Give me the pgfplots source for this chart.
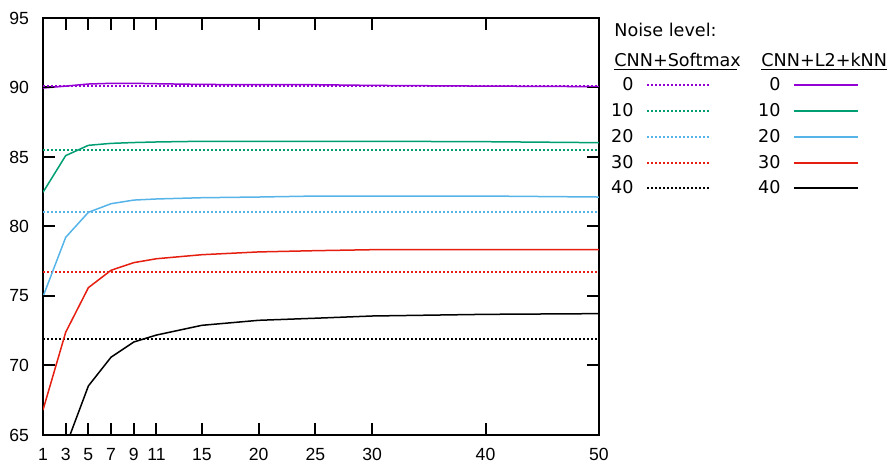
\documentclass[border=0pt]{standalone}
\usepackage{fontspec}
\setmainfont{Liberation Sans}
\newfontfamily\legfont{DejaVu Sans}
\usepackage{pgfplots}
\pgfplotsset{compat=1.18}

\definecolor{gpPurple}{HTML}{9400D3}
\definecolor{gpGreen}{HTML}{009E73}
\definecolor{gpBlue}{HTML}{56B4E9}
\definecolor{gpRed}{HTML}{E51E10}

\tikzset{
  softdot/.style={line width=0.9pt, dash pattern=on 0.8pt off 1.2pt},
  knnline/.style={line width=0.75pt},
}

\begin{document}
\begin{tikzpicture}
% 1 px of the reference = 0.5 pt, axis box lower left at px (43,435)
\begin{axis}[
  at={(0,0)}, anchor=south west,
  scale only axis,
  width=278pt, height=208.5pt,
  xmin=1, xmax=50, ymin=65, ymax=95,
  xtick={1,3,5,7,9,11,15,20,25,30,40,50},
  ytick={65,70,75,80,85,90,95},
  xtick pos=both, ytick pos=both,
  tick align=inside,
  major tick length=6pt,
  axis line style={line width=0.8pt},
  major tick style={line width=1pt, color=black},
  tick label style={font=\fontsize{8.8}{10}\selectfont},
  /pgf/number format/assume math mode=true,
  xticklabel style={yshift=-3pt},
  yticklabel style={xshift=-3.5pt},
]
% CNN+Softmax (constant, dotted)
\addplot[softdot, color=gpPurple] coordinates {(1,90.12) (50,90.12)};
\addplot[softdot, color=gpGreen]  coordinates {(1,85.5) (50,85.5)};
\addplot[softdot, color=gpBlue]   coordinates {(1,81.02) (50,81.02)};
\addplot[softdot, color=gpRed]    coordinates {(1,76.7) (50,76.7)};
\addplot[softdot, color=black]    coordinates {(1,71.93) (50,71.93)};
% CNN+L2+kNN (solid)
\addplot[knnline, color=gpPurple] coordinates {
  (1,89.96) (3,90.1) (5,90.25) (7,90.3) (9,90.3) (11,90.27) (15,90.22)
  (20,90.2) (25,90.2) (30,90.15) (40,90.1) (50,90.06)};
\addplot[knnline, color=gpGreen] coordinates {
  (1,82.46) (3,85.1) (5,85.84) (7,85.98) (9,86.04) (11,86.08) (15,86.13)
  (20,86.13) (25,86.13) (30,86.13) (40,86.1) (50,86.03)};
\addplot[knnline, color=gpBlue] coordinates {
  (1,74.95) (3,79.22) (5,81.02) (7,81.64) (9,81.9) (11,81.98) (15,82.07)
  (20,82.12) (25,82.19) (30,82.19) (40,82.19) (50,82.12)};
\addplot[knnline, color=gpRed] coordinates {
  (1,66.8) (3,72.39) (5,75.6) (7,76.85) (9,77.4) (11,77.68) (15,77.97)
  (20,78.17) (25,78.26) (30,78.33) (40,78.33) (50,78.33)};
\addplot[knnline, color=black] coordinates {
  (1,58.5) (3,64.17) (5,68.53) (7,70.6) (9,71.69) (11,72.19) (15,72.89)
  (20,73.25) (25,73.4) (30,73.56) (40,73.68) (50,73.73)};
\end{axis}
% inward ticks as small filled bars as well (box is 278pt x 208.5pt)
\foreach \v in {3,5,7,9,11,15,20,25,30,40} {
  \pgfmathsetmacro{\tx}{(\v-1)*278/49}
  \fill[black] (\tx pt-0.45pt,0pt) rectangle (\tx pt+0.45pt,5.5pt);
  \fill[black] (\tx pt-0.45pt,208.5pt) rectangle (\tx pt+0.45pt,203pt);
}
\foreach \v in {70,75,80,85,90} {
  \pgfmathsetmacro{\ty}{(\v-65)*208.5/30}
  \fill[black] (0pt,\ty pt-0.45pt) rectangle (5.5pt,\ty pt+0.45pt);
  \fill[black] (278pt,\ty pt-0.45pt) rectangle (272.5pt,\ty pt+0.45pt);
}
% legend, placed in px of the reference
\begin{scope}[x=0.5pt, y=-0.5pt, shift={(-43,-435)},
  every node/.style={inner sep=0pt, font=\legfont\fontsize{8.8}{10}\selectfont}]
  \node[anchor=base west] at (614,37) {Noise level:};
  \node[anchor=base west] at (614,66.5) {CNN+Softmax};
  \node[anchor=base west] at (761,66.5) {CNN+L2+kNN};
  \draw[line width=0.5pt] (614,69.5) -- (737,69.5);
  \draw[line width=0.5pt] (761,69.5) -- (887,69.5);
  \foreach \lab/\yy/\col in {0/85/gpPurple, 10/111/gpGreen, 20/137/gpBlue, 30/163/gpRed, 40/188/black} {
    \node[anchor=base east] at (634,\yy+5.7) {\lab};
    \draw[softdot, color=\col] (647,\yy) -- (709,\yy);
    \node[anchor=base east] at (781,\yy+5.7) {\lab};
    \draw[knnline, color=\col] (794,\yy) -- (858,\yy);
  }
  % page frame: 889 x 465 px
  \path (0,0) rectangle (889,465);
\end{scope}
\end{tikzpicture}
\end{document}
